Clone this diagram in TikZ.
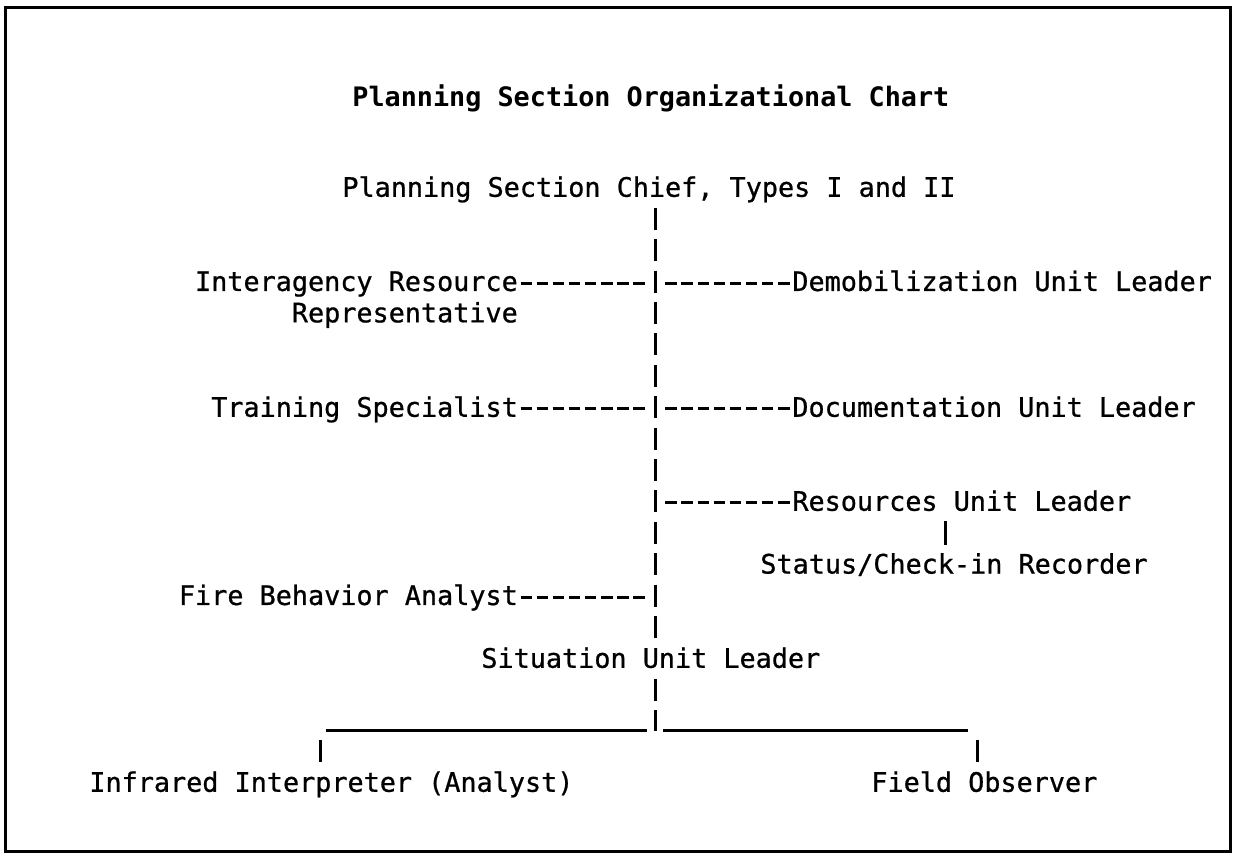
\documentclass[tikz,border=0pt]{standalone}
\usepackage{fontspec}
\newfontfamily\chartfontfam[FakeBold=0.8]{DejaVu Sans Mono}
\newfontfamily\chartfontbold{DejaVu Sans Mono Bold}
\newcommand{\cf}{\chartfontfam\fontsize{13.4pt}{16pt}\selectfont}
\newcommand{\cfb}{\chartfontbold\fontsize{13.4pt}{16pt}\selectfont}
\begin{document}
\begin{tikzpicture}[x=0.5pt,y=-0.5pt,
  lbl/.style={font=\cf, inner sep=0pt, text height=9.77pt, text depth=0pt},
  ttl/.style={lbl, font=\cfb},
  hdash/.style={line width=1.5pt, dash pattern=on 5.75pt off 2.3pt, dash phase=6.9pt, transform canvas={yshift=-1pt}},
  spine/.style={line width=1.5pt, dash pattern=on 11pt off 4.7pt},
  bar/.style={line width=1.5pt},
  uline/.style={line width=1.5pt},
  frame/.style={line width=1.5pt}]
\useasboundingbox (0,0) rectangle (1242,854);
\draw[frame] (5,8) rectangle (1230,851);

\node[ttl, anchor=west] (title) at (352,97) {Planning Section Organizational Chart};
\node[lbl, anchor=west] (chief) at (342,187) {Planning Section Chief, Types I and II};

\node[lbl, anchor=east] (ia1) at (518.2,281.2) {Interagency Resource};
\node[lbl, anchor=east] (ia2) at (518.2,312.6) {Representative};
\node[lbl, anchor=west] (demob) at (792,281.2) {Demobilization Unit Leader};
\node[lbl, anchor=east] (train) at (518.2,407) {Training Specialist};
\node[lbl, anchor=west] (doc) at (792,407) {Documentation Unit Leader};
\node[lbl, anchor=west] (res) at (792,501) {Resources Unit Leader};
\node[lbl, anchor=west] (status) at (760,563.8) {Status/Check-in Recorder};
\node[lbl, anchor=east] (fire) at (518.2,595.2) {Fire Behavior Analyst};
\node[lbl, anchor=west] (sit) at (481,658) {Situation Unit Leader};
\node[lbl, anchor=west] (infra) at (89,782) {Infrared Interpreter (Analyst)};
\node[lbl, anchor=west] (field) at (871,782) {Field Observer};

\coordinate (sp) at (655,0);
\coordinate (jbot) at (655,731);
\coordinate (lb) at (320,731);
\coordinate (rb) at (977,731);
\coordinate (stx) at (945,0);

% spine
\draw[spine, shorten <=5.3pt, shorten >=2pt] (chief.south -| sp) -- (sit.north -| sp);
\draw[spine, shorten <=5.3pt] (sit.south -| sp) -- (jbot);

% branches
\draw[hdash, shorten >=4pt] (ia1.east) -- (ia1.east -| sp);
\draw[hdash, shorten <=4pt] (demob.west -| sp) -- (demob.west);
\draw[hdash, shorten >=4pt] (train.east) -- (train.east -| sp);
\draw[hdash, shorten <=4pt] (doc.west -| sp) -- (doc.west);
\draw[hdash, shorten <=4pt] (res.west -| sp) -- (res.west);
\draw[hdash, shorten >=4pt] (fire.east) -- (fire.east -| sp);
\draw[bar, shorten <=5pt, shorten >=4.5pt] (res.south -| stx) -- (status.north -| stx);

% bottom bar
\draw[uline] ([xshift=3pt]lb) -- ([xshift=-4pt]jbot);
\draw[uline] ([xshift=4pt]jbot) -- ([xshift=-4.5pt]rb);
\draw[bar, shorten <=4.5pt, shorten >=5pt] (lb) -- (lb |- infra.north);
\draw[bar, shorten <=4.5pt, shorten >=5pt] (rb) -- (rb |- field.north);
\end{tikzpicture}
\end{document}
